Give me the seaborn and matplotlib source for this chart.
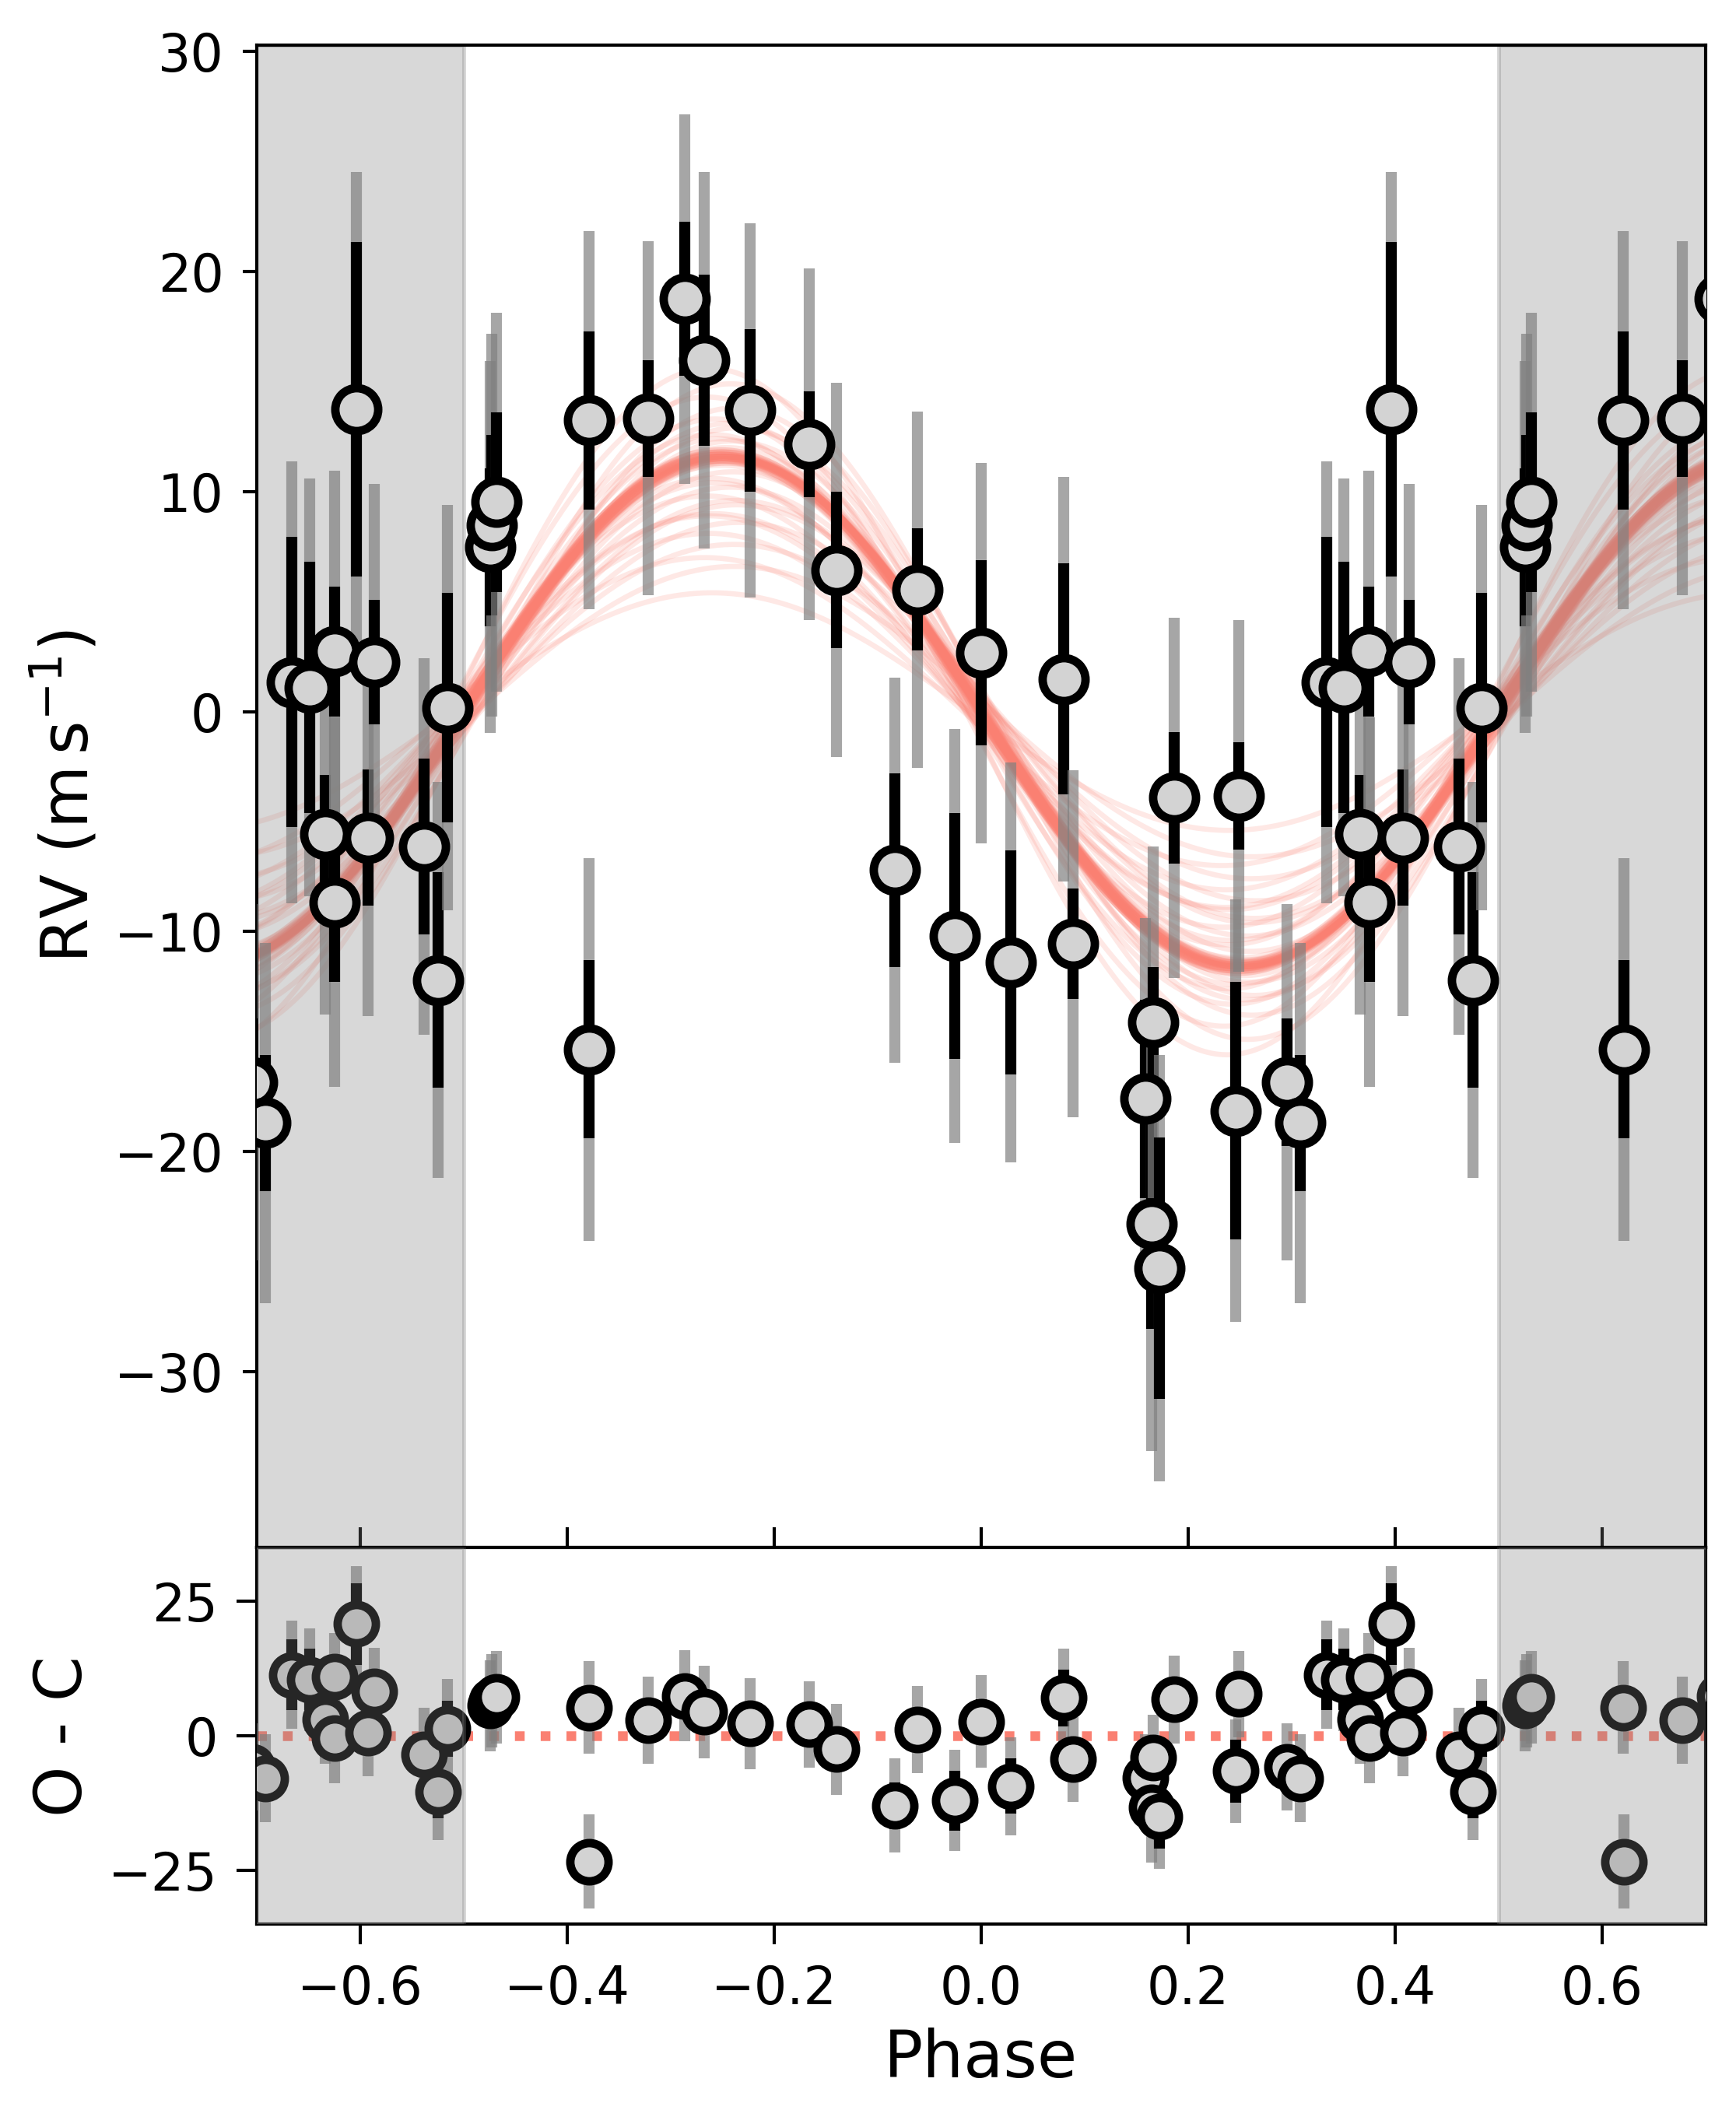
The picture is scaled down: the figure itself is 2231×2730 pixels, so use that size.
import numpy as np
import pandas as pd
import matplotlib
matplotlib.use("Agg")
import matplotlib.pyplot as plt
import seaborn as sns

phase = [-0.4742, -0.4727, -0.4680, -0.3790, -0.3786, -0.3220, -0.2862, -0.2674,
         -0.2229, -0.1658, -0.1397, -0.0832, -0.0614, -0.0255, 0.0002, 0.0285,
         0.0801, 0.0891, 0.1591, 0.1649, 0.1661, 0.1726, 0.1869, 0.2461,
         0.2491, 0.2957, 0.3083, 0.3340, 0.3510, 0.3664, 0.3750, 0.3752,
         0.3965, 0.4078, 0.4138, 0.4620, 0.4752, 0.4840]
rv = [7.47, 8.46, 9.52, 13.24, -15.35, 13.33, 18.75, 15.97,
      13.70, 12.16, 6.43, -7.21, 5.55, -10.20, 2.67, -11.40,
      1.48, -10.55, -17.60, -23.30, -14.13, -25.30, -3.92, -18.14,
      -3.83, -16.86, -18.70, 1.34, 1.10, -5.58, 2.74, -8.67,
      13.74, -5.73, 2.25, -6.14, -12.20, 0.18]
# measurement error (black) and error with jitter added (grey)
err = [3.6, 4.1, 4.1, 4.05, 4.05, 2.65, 3.5, 3.9,
       3.7, 2.4, 3.55, 4.4, 2.78, 5.6, 4.2, 5.1,
       5.25, 2.5, 4.5, 4.75, 2.5, 5.95, 3.0, 5.85,
       2.43, 2.9, 3.1, 6.6, 5.7, 2.7, 2.95, 3.6,
       7.6, 3.1, 2.83, 4.0, 4.9, 5.2]
err_jit = [8.45, 8.7, 8.6, 8.6, 8.7, 8.05, 8.4, 8.55,
           8.5, 8.0, 8.5, 8.75, 8.1, 9.4, 8.65, 9.1,
           9.2, 7.9, 8.2, 10.3, 8.0, 9.7, 8.2, 9.6,
           8.0, 8.1, 8.2, 10.05, 9.5, 8.2, 8.2, 8.4,
           10.8, 8.1, 8.1, 8.55, 9.0, 9.2]
# residuals (observed - computed)
oc = [5.6, 6.5, 7.2, 5.25, -23.35, 2.9, 7.45, 4.44,
      2.27, 2.14, -2.5, -13.0, 1.18, -12.05, 2.68, -9.33,
      7.07, -4.39, -7.84, -13.32, -4.1, -15.04, 6.78, -6.54,
      7.77, -5.73, -7.87, 11.36, 10.44, 3.06, 10.94, -0.48,
      20.77, 0.63, 8.23, -3.4, -10.4, 1.34]

# posterior draws of the circular orbit: semi-amplitude K and phase shift
K_draws = [11.6, 11.4, 11.8, 11.5, 11.7, 11.3, 11.9, 11.6, 11.5, 11.7,
           11.4, 11.6, 11.8, 11.2, 12.0, 11.5, 11.6, 11.7, 11.3, 11.9,
           11.6, 11.4, 11.5, 11.8, 11.6, 11.5, 11.7, 11.6, 11.4, 11.8,
           11.6, 11.5, 11.7, 11.6, 11.5, 11.6, 11.7, 11.4, 11.6, 11.5,
           10.9, 10.6, 10.2, 9.8, 9.4, 9.0, 8.6, 8.1, 7.6, 7.0, 6.6, 5.4,
           10.4, 9.6, 8.9,
           12.3, 12.6, 12.9, 13.3, 13.8, 14.3, 14.9, 15.6, 12.4, 13.1]
dphi_draws = [0.000, 0.004, -0.003, 0.002, -0.005, 0.006, -0.002, 0.003, -0.006, 0.001,
              0.005, -0.004, 0.002, -0.001, 0.004, -0.003, 0.006, -0.005, 0.001, -0.002,
              0.003, -0.006, 0.005, -0.001, 0.002, 0.001, -0.002, 0.003, -0.003, 0.000,
              0.002, -0.001, 0.001, -0.004, 0.004, 0.000, -0.002, 0.003, -0.001, 0.002,
              0.010, -0.012, 0.008, -0.015, 0.014, -0.009, 0.016, -0.013, 0.011, -0.017, 0.012, -0.010,
              -0.008, 0.013, -0.014,
              0.009, -0.011, 0.014, -0.007, 0.012, -0.015, 0.008, -0.012, -0.004, 0.006]

sns.set_style("ticks")
plt.rcParams.update({
    "font.family": ["DejaVu Sans"],
    "axes.edgecolor": "black",
    "axes.linewidth": 1.0,
    "xtick.color": "black",
    "ytick.color": "black",
    "axes.labelcolor": "black",
    "text.color": "black",
})

pts = pd.DataFrame({"phase": phase, "rv": rv, "err": err, "err_jit": err_jit, "oc": oc})
# repeat one cycle on each side so the shaded wings are filled
ext = pd.concat([pts.assign(phase=pts["phase"] + s) for s in (0, -1, 1)], ignore_index=True)
ext = ext[(ext["phase"] > -0.75) & (ext["phase"] < 0.75)]

grid = np.linspace(-0.7, 0.7, 400)
curves = pd.concat([
    pd.DataFrame({"phase": grid, "rv": -k * np.sin(2 * np.pi * (grid - d)), "draw": i})
    for i, (k, d) in enumerate(zip(K_draws, dphi_draws))
], ignore_index=True)

fig = plt.figure(figsize=(2231 / 300, 2730 / 300), dpi=300)
ax1 = fig.add_axes([0.1479, 0.2714, 0.8344, 0.7074])
ax2 = fig.add_axes([0.1479, 0.0941, 0.8344, 0.1773], sharex=ax1)

# top panel: model draws, shaded wings, data
sns.lineplot(data=curves, x="phase", y="rv", units="draw", estimator=None,
             color="salmon", alpha=0.18, lw=1.6, legend=False, ax=ax1, zorder=1)
for lo, hi in [(-1.0, -0.5), (0.5, 1.0)]:
    ax1.axvspan(lo, hi, color="grey", alpha=0.3, lw=1.2, zorder=2)

for _, r in ext.iterrows():
    ax1.errorbar(r["phase"], r["rv"], yerr=r["err_jit"], fmt="none", ecolor="grey",
                 alpha=0.7, elinewidth=3.4, capsize=0, zorder=3)
    ax1.errorbar(r["phase"], r["rv"], yerr=r["err"], fmt="none", ecolor="black",
                 elinewidth=3.4, capsize=0, zorder=3)
sns.scatterplot(data=ext, x="phase", y="rv", s=175, color="lightgray",
                edgecolor="black", linewidth=2.6, legend=False, ax=ax1, zorder=4)

# bottom panel: residuals
ax2.axhline(0, color="salmon", ls=":", lw=3, zorder=1)
for _, r in ext.iterrows():
    ax2.errorbar(r["phase"], r["oc"], yerr=r["err_jit"], fmt="none", ecolor="grey",
                 alpha=0.7, elinewidth=3.4, capsize=0, zorder=3)
    ax2.errorbar(r["phase"], r["oc"], yerr=r["err"], fmt="none", ecolor="black",
                 elinewidth=3.4, capsize=0, zorder=3)
sns.scatterplot(data=ext, x="phase", y="oc", s=139, color="lightgray",
                edgecolor="black", linewidth=2.6, legend=False, ax=ax2, zorder=4)
for lo, hi in [(-1.0, -0.5), (0.5, 1.0)]:
    ax2.axvspan(lo, hi, color="grey", alpha=0.3, lw=1.2, zorder=5)

ax1.set_xlim(-0.7, 0.7)
ax1.set_ylim(-38, 30.3)
ax2.set_ylim(-35, 35)
ax1.set_xticks([-0.6, -0.4, -0.2, 0.0, 0.2, 0.4, 0.6])
ax1.set_yticks([-30, -20, -10, 0, 10, 20, 30])
ax2.set_yticks([-25, 0, 25])

ax1.tick_params(axis="x", direction="in", length=6.2, width=1.0, labelbottom=False)
ax1.tick_params(axis="y", direction="out", length=4.4, width=1.0, labelsize=16, pad=5.8)
ax2.tick_params(axis="both", direction="out", length=6.3, width=1.0, labelsize=16, pad=5.8)

ax1.set_xlabel("")
ax1.set_ylabel(r"RV ($\mathrm{m\,s^{-1}}$)", fontsize=20)
ax2.set_ylabel("O - C", fontsize=20)
ax2.set_xlabel("Phase", fontsize=20)

fig.savefig("out.png", dpi=300)
